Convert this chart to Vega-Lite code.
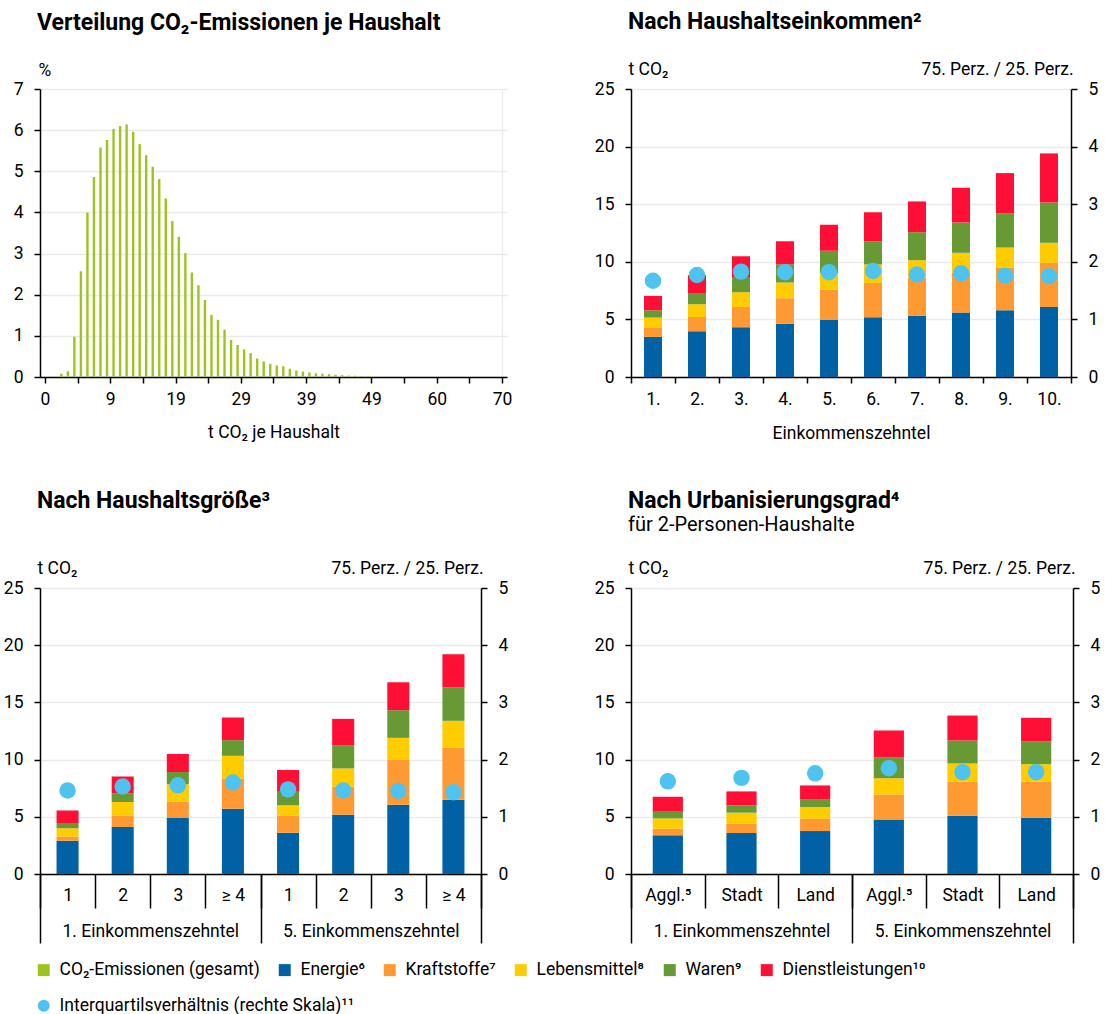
{
  "$schema": "https://vega.github.io/schema/vega-lite/v6.json",
  "padding": {"left": 3, "top": 11, "right": 5, "bottom": 5},
  "background": "white",
  "config": {
    "font": "Roboto",
    "view": {"stroke": null},
    "axis": {
      "labelFont": "Roboto", "labelFontSize": 17.5, "labelColor": "#000",
      "titleFont": "Roboto", "titleFontSize": 17.5, "titleFontWeight": "normal", "titleColor": "#000",
      "domainColor": "#000", "domainWidth": 1.5, "tickColor": "#000", "tickWidth": 1.5, "tickSize": 6,
      "gridColor": "#EAEAEA", "gridWidth": 1.3, "labelPadding": 11
    },
    "title": {"font": "Roboto", "fontSize": 23, "fontWeight": "bold", "color": "#000", "anchor": "start", "frame": "group", "dx": -3,
      "subtitleFont": "Roboto", "subtitleFontSize": 20, "subtitleColor": "#000", "subtitlePadding": 2},
    "legend": {"labelFont": "Roboto", "labelFontSize": 17.5, "labelColor": "#000", "labelLimit": 500, "symbolSize": 144, "symbolStrokeWidth": 0, "labelOffset": 7, "columnPadding": 16}
  },
  "datasets": {
    "komponenten": [
      {"Komponente": "Energie", "Nr": 1},
      {"Komponente": "Kraftstoffe", "Nr": 2},
      {"Komponente": "Lebensmittel", "Nr": 3},
      {"Komponente": "Waren", "Nr": 4},
      {"Komponente": "Dienstleistungen", "Nr": 5}
    ],
    "verteilung": [
      {"t": 2.5, "Anteil": 0.08}, {"t": 3.5, "Anteil": 0.14}, {"t": 4.5, "Anteil": 0.98}, {"t": 5.5, "Anteil": 2.57},
      {"t": 6.5, "Anteil": 4.0}, {"t": 7.5, "Anteil": 4.86}, {"t": 8.5, "Anteil": 5.58}, {"t": 9.5, "Anteil": 5.76},
      {"t": 10.5, "Anteil": 6.03}, {"t": 11.5, "Anteil": 6.1}, {"t": 12.5, "Anteil": 6.14}, {"t": 13.5, "Anteil": 5.96},
      {"t": 14.5, "Anteil": 5.66}, {"t": 15.5, "Anteil": 5.39}, {"t": 16.5, "Anteil": 5.11}, {"t": 17.5, "Anteil": 4.81},
      {"t": 18.5, "Anteil": 4.34}, {"t": 19.5, "Anteil": 3.79}, {"t": 20.5, "Anteil": 3.41}, {"t": 21.5, "Anteil": 3.01},
      {"t": 22.5, "Anteil": 2.54}, {"t": 23.5, "Anteil": 2.23}, {"t": 24.5, "Anteil": 1.87}, {"t": 25.5, "Anteil": 1.51},
      {"t": 26.5, "Anteil": 1.39}, {"t": 27.5, "Anteil": 1.15}, {"t": 28.5, "Anteil": 0.9}, {"t": 29.5, "Anteil": 0.78},
      {"t": 30.5, "Anteil": 0.67}, {"t": 31.5, "Anteil": 0.58}, {"t": 32.5, "Anteil": 0.45}, {"t": 33.5, "Anteil": 0.38},
      {"t": 34.5, "Anteil": 0.32}, {"t": 35.5, "Anteil": 0.28}, {"t": 36.5, "Anteil": 0.26}, {"t": 37.5, "Anteil": 0.2},
      {"t": 38.5, "Anteil": 0.16}, {"t": 39.5, "Anteil": 0.13}, {"t": 40.5, "Anteil": 0.11}, {"t": 41.5, "Anteil": 0.09},
      {"t": 42.5, "Anteil": 0.08}, {"t": 43.5, "Anteil": 0.07}, {"t": 44.5, "Anteil": 0.055}, {"t": 45.5, "Anteil": 0.045},
      {"t": 46.5, "Anteil": 0.035}, {"t": 47.5, "Anteil": 0.03}, {"t": 48.5, "Anteil": 0.02}, {"t": 49.5, "Anteil": 0.015}
    ],
    "dezile": [
      {"Dezil": "1.", "Energie": 3.48, "Kraftstoffe": 0.78, "Lebensmittel": 0.9, "Waren": 0.63, "Dienstleistungen": 1.25, "IQR": 1.67},
      {"Dezil": "2.", "Energie": 3.97, "Kraftstoffe": 1.24, "Lebensmittel": 1.11, "Waren": 0.98, "Dienstleistungen": 1.54, "IQR": 1.77},
      {"Dezil": "3.", "Energie": 4.32, "Kraftstoffe": 1.76, "Lebensmittel": 1.28, "Waren": 1.32, "Dienstleistungen": 1.8, "IQR": 1.83},
      {"Dezil": "4.", "Energie": 4.63, "Kraftstoffe": 2.2, "Lebensmittel": 1.37, "Waren": 1.58, "Dienstleistungen": 2.01, "IQR": 1.82},
      {"Dezil": "5.", "Energie": 4.95, "Kraftstoffe": 2.62, "Lebensmittel": 1.45, "Waren": 1.94, "Dienstleistungen": 2.25, "IQR": 1.82},
      {"Dezil": "6.", "Energie": 5.19, "Kraftstoffe": 2.98, "Lebensmittel": 1.59, "Waren": 2.03, "Dienstleistungen": 2.52, "IQR": 1.84},
      {"Dezil": "7.", "Energie": 5.3, "Kraftstoffe": 3.3, "Lebensmittel": 1.54, "Waren": 2.43, "Dienstleistungen": 2.67, "IQR": 1.78},
      {"Dezil": "8.", "Energie": 5.59, "Kraftstoffe": 3.46, "Lebensmittel": 1.73, "Waren": 2.63, "Dienstleistungen": 3.02, "IQR": 1.8},
      {"Dezil": "9.", "Energie": 5.79, "Kraftstoffe": 3.68, "Lebensmittel": 1.77, "Waren": 2.98, "Dienstleistungen": 3.48, "IQR": 1.76},
      {"Dezil": "10.", "Energie": 6.08, "Kraftstoffe": 3.83, "Lebensmittel": 1.74, "Waren": 3.5, "Dienstleistungen": 4.26, "IQR": 1.75}
    ],
    "groesse": [
      {"Gruppe": "1. Einkommenszehntel", "Kat": "1|1", "Energie": 2.91, "Kraftstoffe": 0.35, "Lebensmittel": 0.73, "Waren": 0.46, "Dienstleistungen": 1.11, "IQR": 1.46},
      {"Gruppe": "1. Einkommenszehntel", "Kat": "1|2", "Energie": 4.1, "Kraftstoffe": 0.99, "Lebensmittel": 1.2, "Waren": 0.75, "Dienstleistungen": 1.49, "IQR": 1.53},
      {"Gruppe": "1. Einkommenszehntel", "Kat": "1|3", "Energie": 4.89, "Kraftstoffe": 1.43, "Lebensmittel": 1.53, "Waren": 1.06, "Dienstleistungen": 1.57, "IQR": 1.55},
      {"Gruppe": "1. Einkommenszehntel", "Kat": "1|≥ 4", "Energie": 5.7, "Kraftstoffe": 2.65, "Lebensmittel": 1.98, "Waren": 1.37, "Dienstleistungen": 1.98, "IQR": 1.6},
      {"Gruppe": "5. Einkommenszehntel", "Kat": "5|1", "Energie": 3.61, "Kraftstoffe": 1.51, "Lebensmittel": 0.9, "Waren": 1.23, "Dienstleistungen": 1.83, "IQR": 1.48},
      {"Gruppe": "5. Einkommenszehntel", "Kat": "5|2", "Energie": 5.18, "Kraftstoffe": 2.45, "Lebensmittel": 1.6, "Waren": 2.03, "Dienstleistungen": 2.3, "IQR": 1.46},
      {"Gruppe": "5. Einkommenszehntel", "Kat": "5|3", "Energie": 6.05, "Kraftstoffe": 3.93, "Lebensmittel": 1.92, "Waren": 2.42, "Dienstleistungen": 2.44, "IQR": 1.45},
      {"Gruppe": "5. Einkommenszehntel", "Kat": "5|≥ 4", "Energie": 6.49, "Kraftstoffe": 4.54, "Lebensmittel": 2.36, "Waren": 2.94, "Dienstleistungen": 2.88, "IQR": 1.43}
    ],
    "urban": [
      {"Gruppe": "1. Einkommenszehntel", "Kat": "1|Aggl.⁵", "Energie": 3.38, "Kraftstoffe": 0.58, "Lebensmittel": 0.9, "Waren": 0.58, "Dienstleistungen": 1.31, "IQR": 1.62},
      {"Gruppe": "1. Einkommenszehntel", "Kat": "1|Stadt", "Energie": 3.58, "Kraftstoffe": 0.81, "Lebensmittel": 0.97, "Waren": 0.64, "Dienstleistungen": 1.22, "IQR": 1.68},
      {"Gruppe": "1. Einkommenszehntel", "Kat": "1|Land", "Energie": 3.75, "Kraftstoffe": 1.08, "Lebensmittel": 1.02, "Waren": 0.7, "Dienstleistungen": 1.19, "IQR": 1.76},
      {"Gruppe": "5. Einkommenszehntel", "Kat": "5|Aggl.⁵", "Energie": 4.77, "Kraftstoffe": 2.19, "Lebensmittel": 1.42, "Waren": 1.81, "Dienstleistungen": 2.35, "IQR": 1.85},
      {"Gruppe": "5. Einkommenszehntel", "Kat": "5|Stadt", "Energie": 5.09, "Kraftstoffe": 2.97, "Lebensmittel": 1.6, "Waren": 2.01, "Dienstleistungen": 2.18, "IQR": 1.78},
      {"Gruppe": "5. Einkommenszehntel", "Kat": "5|Land", "Energie": 4.92, "Kraftstoffe": 3.14, "Lebensmittel": 1.54, "Waren": 1.98, "Dienstleistungen": 2.07, "IQR": 1.78}
    ]
  },
  "columns": 2,
  "spacing": {"row": 211, "column": 124},
  "bounds": "flush",
  "resolve": {"scale": {"color": "shared", "fill": "shared"}},
  "concat": [
    {
      "width": 467, "height": 288,
      "title": {"text": "Verteilung CO₂-Emissionen je Haushalt", "offset": 26},
      "data": {"name": "verteilung"},
      "mark": {"type": "bar", "width": 2.4},
      "encoding": {
        "x": {"field": "t", "type": "quantitative", "scale": {"domain": [0, 70], "nice": false, "zero": false},
          "axis": {"values": [0, 5, 10, 15, 20, 25, 30, 35, 40, 45, 50, 55, 60, 65, 70], "labelOverlap": false, "labelFlush": false,
            "labelExpr": "datum.value % 10 == 0 ? ['0','9','19','29','39','49','60','70'][datum.value / 10] : ''",
            "grid": true, "gridOpacity": {"condition": {"test": "datum.value == 70", "value": 1}, "value": 0},
            "title": "t CO₂ je Haushalt", "labelPadding": 7, "titlePadding": 16}},
        "y": {"field": "Anteil", "type": "quantitative", "scale": {"domain": [0, 7], "nice": false},
          "axis": {"values": [0, 1, 2, 3, 4, 5, 6, 7], "grid": true, "title": "%", "titleAngle": 0, "titleAlign": "left", "titleBaseline": "alphabetic", "titleX": -2, "titleY": -14}},
        "color": {"datum": "Gesamt", "type": "nominal",
          "scale": {"domain": ["Gesamt", "Energie", "Kraftstoffe", "Lebensmittel", "Waren", "Dienstleistungen"], "range": ["#9DC41E", "#0062A5", "#FF9A33", "#FFCC00", "#679935", "#FF0F35"]},
          "legend": {"title": null, "orient": "none", "legendX": -5, "legendY": 872, "direction": "horizontal", "symbolType": "square",
            "labelExpr": "{'Gesamt': 'CO₂-Emissionen (gesamt)', 'Energie': 'Energie⁶', 'Kraftstoffe': 'Kraftstoffe⁷', 'Lebensmittel': 'Lebensmittel⁸', 'Waren': 'Waren⁹', 'Dienstleistungen': 'Dienstleistungen¹⁰'}[datum.label]"}}
      }
    },
    {
      "width": 440, "height": 288,
      "title": {"text": "Nach Haushaltseinkommen²", "offset": 26},
      "data": {"name": "dezile"},
      "layer": [
        {
          "transform": [
            {"fold": ["Energie", "Kraftstoffe", "Lebensmittel", "Waren", "Dienstleistungen"], "as": ["Komponente", "Wert"]},
            {"lookup": "Komponente", "from": {"data": {"name": "komponenten"}, "key": "Komponente", "fields": ["Nr"]}}
          ],
          "mark": {"type": "bar", "width": {"band": 0.41}},
          "encoding": {
            "x": {"field": "Dezil", "type": "nominal", "sort": null, "scale": {"paddingInner": 0, "paddingOuter": 0},
              "axis": {"orient": "bottom", "labelAngle": 0, "tickBand": "extent", "title": "Einkommenszehntel", "labelPadding": 7, "titlePadding": 17}},
            "y": {"field": "Wert", "type": "quantitative", "stack": "zero", "scale": {"domain": [0, 25], "nice": false},
              "axis": {"orient": "left", "values": [0, 5, 10, 15, 20, 25], "grid": true, "title": "t CO₂", "titleAngle": 0, "titleAlign": "left", "titleBaseline": "alphabetic", "titleX": -3, "titleY": -15}},
            "color": {"field": "Komponente", "type": "nominal",
              "scale": {"domain": ["Gesamt", "Energie", "Kraftstoffe", "Lebensmittel", "Waren", "Dienstleistungen"], "range": ["#9DC41E", "#0062A5", "#FF9A33", "#FFCC00", "#679935", "#FF0F35"]},
              "legend": {"title": null, "orient": "none", "legendX": -5, "legendY": 872, "direction": "horizontal", "symbolType": "square",
                "labelExpr": "{'Gesamt': 'CO₂-Emissionen (gesamt)', 'Energie': 'Energie⁶', 'Kraftstoffe': 'Kraftstoffe⁷', 'Lebensmittel': 'Lebensmittel⁸', 'Waren': 'Waren⁹', 'Dienstleistungen': 'Dienstleistungen¹⁰'}[datum.label]"}},
            "order": {"field": "Nr", "type": "quantitative"}
          }
        },
        {
          "mark": {"type": "circle", "size": 270, "opacity": 1},
          "encoding": {
            "x": {"field": "Dezil", "type": "nominal", "sort": null},
            "y": {"field": "IQR", "type": "quantitative", "scale": {"domain": [0, 5], "nice": false},
              "axis": {"orient": "right", "values": [0, 1, 2, 3, 4, 5], "grid": false, "title": "75. Perz. / 25. Perz.", "titleAngle": 0, "titleAlign": "right", "titleBaseline": "alphabetic", "titleX": 2, "titleY": -15}},
            "fill": {"datum": "IQR", "type": "nominal", "scale": {"domain": ["IQR"], "range": ["#4FC3F0"]},
              "legend": {"title": null, "orient": "none", "legendX": -5, "legendY": 908, "symbolType": "circle", "labelExpr": "'Interquartilsverhältnis (rechte Skala)¹¹'"}}
          }
        }
      ],
      "resolve": {"scale": {"y": "independent"}}
    },
    {
      "width": 441, "height": 286,
      "title": {"text": "Nach Haushaltsgröße³", "offset": 46},
      "data": {"name": "groesse"},
      "layer": [
        {
          "transform": [
            {"fold": ["Energie", "Kraftstoffe", "Lebensmittel", "Waren", "Dienstleistungen"], "as": ["Komponente", "Wert"]},
            {"lookup": "Komponente", "from": {"data": {"name": "komponenten"}, "key": "Komponente", "fields": ["Nr"]}}
          ],
          "mark": {"type": "bar", "width": {"band": 0.4}},
          "encoding": {
            "x": {"field": "Kat", "type": "nominal", "sort": null, "scale": {"paddingInner": 0, "paddingOuter": 0},
              "axis": {"orient": "bottom", "labelAngle": 0, "tickBand": "extent", "tickSize": 34, "labelPadding": -22, "labelExpr": "slice(datum.label, 2)", "title": null}},
            "y": {"field": "Wert", "type": "quantitative", "stack": "zero", "scale": {"domain": [0, 25], "nice": false},
              "axis": {"orient": "left", "values": [0, 5, 10, 15, 20, 25], "grid": true, "title": "t CO₂", "titleAngle": 0, "titleAlign": "left", "titleBaseline": "alphabetic", "titleX": -3, "titleY": -15}},
            "color": {"field": "Komponente", "type": "nominal",
              "scale": {"domain": ["Gesamt", "Energie", "Kraftstoffe", "Lebensmittel", "Waren", "Dienstleistungen"], "range": ["#9DC41E", "#0062A5", "#FF9A33", "#FFCC00", "#679935", "#FF0F35"]},
              "legend": {"title": null, "orient": "none", "legendX": -5, "legendY": 872, "direction": "horizontal", "symbolType": "square",
                "labelExpr": "{'Gesamt': 'CO₂-Emissionen (gesamt)', 'Energie': 'Energie⁶', 'Kraftstoffe': 'Kraftstoffe⁷', 'Lebensmittel': 'Lebensmittel⁸', 'Waren': 'Waren⁹', 'Dienstleistungen': 'Dienstleistungen¹⁰'}[datum.label]"}},
            "order": {"field": "Nr", "type": "quantitative"}
          }
        },
        {
          "mark": {"type": "circle", "size": 270, "opacity": 1},
          "encoding": {
            "x": {"field": "Kat", "type": "nominal", "sort": null, "scale": {"paddingInner": 0, "paddingOuter": 0}, "axis": null},
            "y": {"field": "IQR", "type": "quantitative", "scale": {"domain": [0, 5], "nice": false},
              "axis": {"orient": "right", "values": [0, 1, 2, 3, 4, 5], "grid": false, "title": "75. Perz. / 25. Perz.", "titleAngle": 0, "titleAlign": "right", "titleBaseline": "alphabetic", "titleX": 2, "titleY": -15}},
            "fill": {"datum": "IQR", "type": "nominal", "scale": {"domain": ["IQR"], "range": ["#4FC3F0"]},
              "legend": {"title": null, "orient": "none", "legendX": -5, "legendY": 908, "symbolType": "circle", "labelExpr": "'Interquartilsverhältnis (rechte Skala)¹¹'"}}
          }
        },
        {
          "mark": {"type": "tick", "opacity": 0},
          "encoding": {
            "x": {"field": "Gruppe", "type": "nominal", "sort": null, "scale": {"paddingInner": 0, "paddingOuter": 0},
              "axis": {"orient": "bottom", "labelAngle": 0, "tickBand": "extent", "tickSize": 69, "labelPadding": -21, "domain": false, "title": null}}
          }
        }
      ],
      "resolve": {"scale": {"x": "independent", "y": "independent"}}
    },
    {
      "width": 442, "height": 286,
      "title": {"text": "Nach Urbanisierungsgrad⁴", "subtitle": "für 2-Personen-Haushalte", "offset": 24},
      "data": {"name": "urban"},
      "layer": [
        {
          "transform": [
            {"fold": ["Energie", "Kraftstoffe", "Lebensmittel", "Waren", "Dienstleistungen"], "as": ["Komponente", "Wert"]},
            {"lookup": "Komponente", "from": {"data": {"name": "komponenten"}, "key": "Komponente", "fields": ["Nr"]}}
          ],
          "mark": {"type": "bar", "width": {"band": 0.41}},
          "encoding": {
            "x": {"field": "Kat", "type": "nominal", "sort": null, "scale": {"paddingInner": 0, "paddingOuter": 0},
              "axis": {"orient": "bottom", "labelAngle": 0, "tickBand": "extent", "tickSize": 34, "labelPadding": -22, "labelExpr": "slice(datum.label, 2)", "title": null}},
            "y": {"field": "Wert", "type": "quantitative", "stack": "zero", "scale": {"domain": [0, 25], "nice": false},
              "axis": {"orient": "left", "values": [0, 5, 10, 15, 20, 25], "grid": true, "title": "t CO₂", "titleAngle": 0, "titleAlign": "left", "titleBaseline": "alphabetic", "titleX": -3, "titleY": -15}},
            "color": {"field": "Komponente", "type": "nominal",
              "scale": {"domain": ["Gesamt", "Energie", "Kraftstoffe", "Lebensmittel", "Waren", "Dienstleistungen"], "range": ["#9DC41E", "#0062A5", "#FF9A33", "#FFCC00", "#679935", "#FF0F35"]},
              "legend": {"title": null, "orient": "none", "legendX": -5, "legendY": 872, "direction": "horizontal", "symbolType": "square",
                "labelExpr": "{'Gesamt': 'CO₂-Emissionen (gesamt)', 'Energie': 'Energie⁶', 'Kraftstoffe': 'Kraftstoffe⁷', 'Lebensmittel': 'Lebensmittel⁸', 'Waren': 'Waren⁹', 'Dienstleistungen': 'Dienstleistungen¹⁰'}[datum.label]"}},
            "order": {"field": "Nr", "type": "quantitative"}
          }
        },
        {
          "mark": {"type": "circle", "size": 270, "opacity": 1},
          "encoding": {
            "x": {"field": "Kat", "type": "nominal", "sort": null, "scale": {"paddingInner": 0, "paddingOuter": 0}, "axis": null},
            "y": {"field": "IQR", "type": "quantitative", "scale": {"domain": [0, 5], "nice": false},
              "axis": {"orient": "right", "values": [0, 1, 2, 3, 4, 5], "grid": false, "title": "75. Perz. / 25. Perz.", "titleAngle": 0, "titleAlign": "right", "titleBaseline": "alphabetic", "titleX": 2, "titleY": -15}},
            "fill": {"datum": "IQR", "type": "nominal", "scale": {"domain": ["IQR"], "range": ["#4FC3F0"]},
              "legend": {"title": null, "orient": "none", "legendX": -5, "legendY": 908, "symbolType": "circle", "labelExpr": "'Interquartilsverhältnis (rechte Skala)¹¹'"}}
          }
        },
        {
          "mark": {"type": "tick", "opacity": 0},
          "encoding": {
            "x": {"field": "Gruppe", "type": "nominal", "sort": null, "scale": {"paddingInner": 0, "paddingOuter": 0},
              "axis": {"orient": "bottom", "labelAngle": 0, "tickBand": "extent", "tickSize": 69, "labelPadding": -21, "domain": false, "title": null}}
          }
        }
      ],
      "resolve": {"scale": {"x": "independent", "y": "independent"}}
    }
  ]
}
